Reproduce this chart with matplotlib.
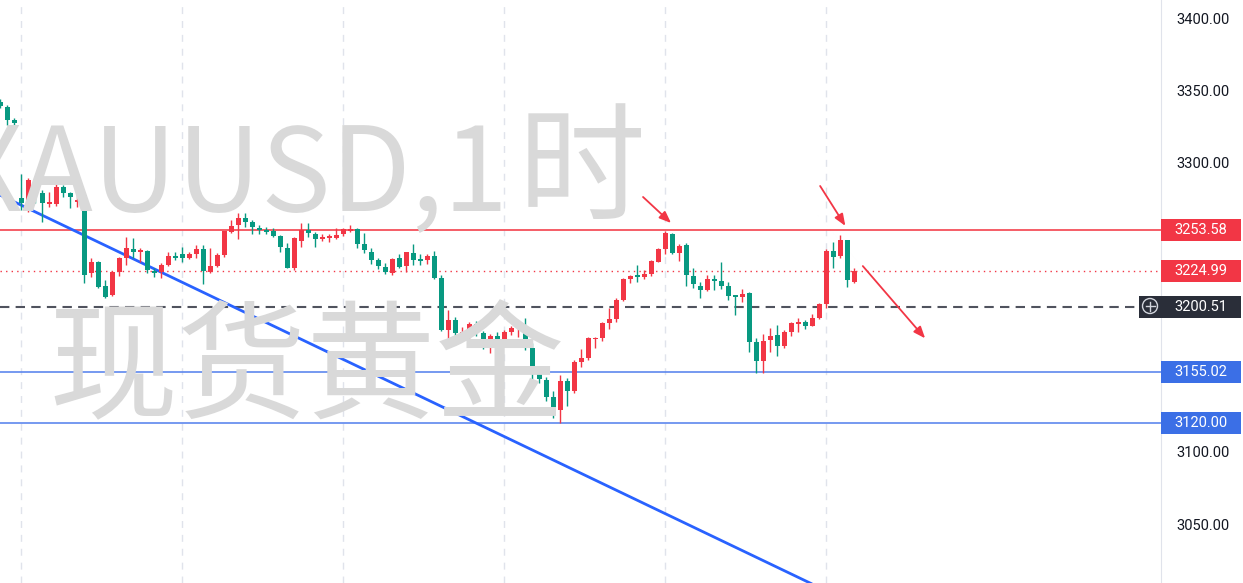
import numpy as np
import matplotlib
matplotlib.use("Agg")
import matplotlib.pyplot as plt
from matplotlib.patches import Rectangle, Circle
from matplotlib.lines import Line2D
from matplotlib.transforms import blended_transform_factory

# ---------------- data (hourly candles, index 0 = first gridline) ----------------
idx = list(range(-3, 120))
opens = [3342.2, 3338.7, 3329.7,
         3275.6, 3269.5, 3287.5, 3279.2, 3271.5, 3271.5, 3283.4, 3279.2, 3273.0, 3277.8,
         3223.9, 3231.5, 3214.9, 3208.6, 3224.5, 3234.2, 3240.4, 3238.3, 3239.0, 3225.2,
         3224.5, 3229.4, 3235.6, 3237.0, 3234.2, 3237.0, 3240.4, 3224.5, 3228.7, 3236.3,
         3252.3, 3257.1, 3262.0, 3259.1, 3254.9, 3253.6, 3252.9, 3249.4, 3241.1, 3227.3,
         3246.0, 3253.6, 3251.0, 3247.3, 3248.0, 3248.0, 3251.0, 3252.9, 3254.3, 3244.0,
         3238.3, 3232.8, 3228.0, 3223.9, 3234.2, 3228.7, 3237.7, 3233.5, 3232.8, 3235.6,
         3220.4, 3184.4, 3191.3, 3181.6, 3183.0, 3188.6, 3182.3, 3171.9, 3180.2, 3176.8,
         3183.0, 3185.8, 3187.2, 3171.9, 3154.6, 3149.7, 3137.9, 3129.0, 3149.0, 3142.1,
         3162.2, 3165.0, 3178.2, 3178.9, 3189.3, 3192.0, 3205.1, 3219.7, 3222.5, 3221.1,
         3223.2, 3231.5, 3240.4, 3251.0, 3237.7, 3243.2, 3221.8, 3214.9, 3212.0, 3219.7,
         3218.3, 3214.9, 3208.6, 3207.2, 3210.0, 3176.1, 3163.0, 3177.5, 3181.0, 3173.3,
         3183.0, 3188.6, 3190.0, 3187.2, 3192.7, 3202.4, 3239.0, 3235.6, 3246.6, 3217.6]
highs = [3344.0, 3340.1, 3331.0,
         3292.4, 3289.6, 3290.3, 3281.3, 3280.0, 3285.4, 3284.7, 3280.0, 3278.5, 3277.8,
         3234.2, 3232.0, 3219.0, 3225.0, 3234.9, 3248.7, 3248.0, 3241.1, 3239.5, 3227.3,
         3230.8, 3238.3, 3238.3, 3241.8, 3238.3, 3243.2, 3243.2, 3241.1, 3237.7, 3253.0,
         3260.5, 3265.3, 3265.3, 3260.5, 3257.0, 3255.7, 3254.9, 3250.1, 3244.6, 3248.7,
         3258.4, 3258.4, 3252.3, 3250.9, 3251.0, 3254.9, 3254.9, 3257.0, 3254.9, 3251.6,
         3241.1, 3234.2, 3230.8, 3234.2, 3236.9, 3238.3, 3244.0, 3236.9, 3236.9, 3239.0,
         3222.5, 3198.2, 3193.4, 3186.4, 3190.0, 3190.6, 3183.7, 3181.6, 3183.0, 3184.4,
         3187.2, 3187.9, 3192.7, 3175.4, 3156.7, 3151.8, 3142.1, 3153.2, 3151.1, 3163.6,
         3171.2, 3179.6, 3179.6, 3190.0, 3199.6, 3206.5, 3220.4, 3222.5, 3229.4, 3226.0,
         3232.8, 3241.1, 3253.0, 3251.6, 3243.9, 3244.6, 3227.3, 3217.6, 3222.5, 3222.5,
         3231.5, 3217.6, 3208.6, 3212.7, 3210.7, 3178.9, 3181.6, 3185.8, 3187.9, 3184.4,
         3190.0, 3192.7, 3191.3, 3195.5, 3203.1, 3240.4, 3245.3, 3250.1, 3246.6, 3227.3]
lows = [3338.0, 3326.2, 3325.5,
        3267.4, 3266.0, 3272.2, 3259.1, 3269.5, 3270.1, 3276.4, 3268.8, 3269.5, 3216.9,
        3221.1, 3213.5, 3206.6, 3207.9, 3221.8, 3229.4, 3234.2, 3231.5, 3223.9, 3221.1,
        3220.4, 3228.7, 3232.8, 3231.5, 3233.5, 3234.2, 3216.2, 3223.9, 3228.0, 3235.0,
        3251.6, 3247.3, 3255.7, 3250.9, 3250.9, 3250.9, 3248.7, 3238.3, 3227.3, 3225.9,
        3241.8, 3248.7, 3241.8, 3246.0, 3245.0, 3247.3, 3249.4, 3252.3, 3241.1, 3237.7,
        3230.1, 3226.6, 3223.2, 3222.5, 3227.3, 3224.5, 3229.4, 3229.4, 3230.1, 3219.7,
        3183.7, 3174.8, 3178.9, 3178.9, 3174.0, 3180.3, 3171.2, 3168.4, 3176.8, 3176.1,
        3181.0, 3179.6, 3170.5, 3150.4, 3147.6, 3135.2, 3123.4, 3120.0, 3131.7, 3140.7,
        3158.8, 3163.6, 3172.0, 3176.8, 3185.1, 3190.0, 3204.4, 3216.9, 3217.6, 3219.7,
        3221.8, 3231.5, 3237.0, 3237.0, 3232.1, 3214.9, 3213.5, 3206.5, 3211.4, 3212.0,
        3212.7, 3205.1, 3195.0, 3203.7, 3169.1, 3154.7, 3154.7, 3169.1, 3166.5, 3172.0,
        3180.3, 3183.0, 3185.1, 3187.2, 3192.0, 3199.7, 3227.3, 3234.2, 3214.2, 3217.0]
closes = [3339.5, 3329.7, 3327.6,
          3272.2, 3288.2, 3279.2, 3272.2, 3273.0, 3283.4, 3279.2, 3276.4, 3274.3, 3222.4,
          3231.5, 3214.2, 3207.3, 3224.5, 3234.2, 3241.1, 3238.3, 3239.7, 3225.9, 3223.9,
          3229.4, 3235.6, 3234.2, 3234.2, 3237.0, 3240.4, 3225.2, 3228.7, 3236.3, 3253.0,
          3256.4, 3262.0, 3259.1, 3255.7, 3253.6, 3252.3, 3249.4, 3241.8, 3227.3, 3248.0,
          3253.6, 3251.6, 3247.3, 3248.7, 3249.4, 3250.1, 3254.3, 3254.3, 3244.0, 3239.7,
          3232.8, 3228.7, 3224.5, 3233.5, 3228.0, 3238.3, 3232.8, 3232.1, 3235.6, 3220.4,
          3184.4, 3191.3, 3182.3, 3183.0, 3188.6, 3182.3, 3171.9, 3180.2, 3178.2, 3183.0,
          3185.8, 3187.2, 3171.9, 3154.6, 3150.4, 3137.9, 3129.0, 3149.0, 3142.1, 3162.2,
          3165.0, 3178.9, 3178.9, 3189.3, 3192.0, 3205.1, 3219.7, 3221.8, 3221.1, 3223.2,
          3232.1, 3240.4, 3251.6, 3237.7, 3242.5, 3222.5, 3216.2, 3212.0, 3219.7, 3218.3,
          3214.9, 3207.9, 3207.2, 3209.3, 3176.1, 3163.0, 3176.8, 3180.2, 3173.3, 3183.0,
          3189.3, 3190.0, 3187.2, 3192.7, 3202.4, 3238.9, 3235.0, 3246.6, 3219.0, 3224.99]

price_ticks = [3050, 3100, 3150, 3200, 3250, 3300, 3350, 3400]
hidden_ticks = [3150, 3200, 3250]   # covered by the price labels in the reference
grid_idx = [0, 23, 46, 69, 92, 115]

resistance = 3253.58
last_price = 3224.99
crosshair_price = 3200.51
supports = [3155.02, 3120.00]

trend_x = [-3, 113]
trend_y = [3277.6, 3008.5]

arrows = [((88.8, 3276.4), (92.8, 3258.4)),
          ((114.1, 3284.0), (117.7, 3256.4)),
          ((120.2, 3228.6), (129.1, 3178.6))]

watermark_latin = "XAUUSD,1"
watermark_cjk1 = "时"
watermark_line2 = "现货黄金"

# ---------------- styling ----------------
UP = "#f23645"     # rising candle (red)
DOWN = "#089981"   # falling candle (green)
W, H = 1243, 583
plot_w = 1161

fig = plt.figure(figsize=(W / 100, H / 100), dpi=100)
fig.patch.set_facecolor("white")
ax = fig.add_axes([0, 0, plot_w / W, 1])
ax.set_facecolor("white")
ax.set_xlim(-3.07, 162.8)
ax.set_ylim(3009.3, 3412.7)

# watermark
wm_font = ["Noto Sans CJK SC", "DejaVu Sans"]
WM = "#d9d9d9"
fig.text(508 / W, 1 - 210 / H, watermark_latin, fontsize=84, color=WM,
         family=wm_font, ha="right", va="baseline", zorder=0)
fig.text(518 / W, 1 - 210 / H, watermark_cjk1, fontsize=92, color=WM,
         family=wm_font, ha="left", va="baseline", zorder=0)
fig.text(48 / W, 1 - 409 / H, watermark_line2, fontsize=93, color=WM,
         family=wm_font, ha="left", va="baseline", zorder=0)

# grid
for g in grid_idx:
    ax.axvline(g, color="#e0e3eb", lw=1, ls=(0, (5, 5)), zorder=1)

# horizontal levels
ax.axhline(resistance, color="#f5515b", lw=1.3, zorder=2)
for s in supports:
    ax.axhline(s, color="#5d87ee", lw=1.2, zorder=2)
ax.axhline(last_price, color=UP, lw=1, ls=(0, (1, 3)), zorder=2)
ax.axhline(crosshair_price, color="#50535e", lw=1.5, ls=(0, (4.5, 3)), zorder=2)

# trend line
ax.plot(trend_x, trend_y, color="#2962ff", lw=2, zorder=3, solid_capstyle="butt")

# candles
x = np.array(idx, dtype=float)
o = np.array(opens); h = np.array(highs); l = np.array(lows); c = np.array(closes)
cols = np.where(c >= o, UP, DOWN)
ax.vlines(x, l, h, colors=cols, lw=1, zorder=4)
bottom = np.minimum(o, c)
height = np.maximum(np.abs(c - o), 0.8)
ax.bar(x, height, bottom=bottom, width=0.72, color=cols, edgecolor=cols, lw=0, zorder=5)

# arrows
for (s, e) in arrows:
    ax.annotate("", xy=e, xytext=s,
                arrowprops=dict(arrowstyle="-|>,head_length=0.7,head_width=0.28",
                                color=UP, lw=1.3, shrinkA=0, shrinkB=0), zorder=6)

# axis
for side in ["top", "left", "bottom"]:
    ax.spines[side].set_visible(False)
ax.spines["right"].set_color("#e0e3eb")
ax.set_xticks([])
ax.yaxis.tick_right()
ax.set_yticks(price_ticks)
ax.set_yticklabels(["" if p in hidden_ticks else f"{p:.2f}" for p in price_ticks])
ax.tick_params(axis="y", length=0, pad=11, labelsize=10.5, labelcolor="#131722")
for lab in ax.get_yticklabels():
    lab.set_family("Roboto")

# price labels
tr = blended_transform_factory(ax.transAxes, ax.transData)
box_w = 80 / plot_w
box_h = 22 / 1.445
def price_box(p, color, x0=1.0, w=box_w):
    ax.add_patch(Rectangle((x0, p - box_h / 2), w, box_h, transform=tr,
                           facecolor=color, edgecolor="none", clip_on=False, zorder=10))
    ax.text(1.0 + box_w / 2, p, f"{p:.2f}", transform=tr, ha="center", va="center",
            color="white", fontsize=10.5, family="Roboto", zorder=11, clip_on=False)

price_box(resistance, UP)
price_box(last_price, UP)
price_box(crosshair_price, "#2a2e39", x0=1 - 22 / plot_w, w=box_w + 22 / plot_w)
for s in supports:
    price_box(s, "#3b6fe6")

# crosshair icon (drawn in inches so it stays round)
cx, cy = 1150 / 100, (H - 306) / 100
fig.add_artist(Circle((cx, cy), 0.075, transform=fig.dpi_scale_trans,
                      facecolor="none", edgecolor="#d1d4dc", lw=1, zorder=12))
fig.add_artist(Line2D([cx - 0.045, cx + 0.045], [cy, cy], transform=fig.dpi_scale_trans,
                      color="#d1d4dc", lw=1, zorder=12))
fig.add_artist(Line2D([cx, cx], [cy - 0.045, cy + 0.045], transform=fig.dpi_scale_trans,
                      color="#d1d4dc", lw=1, zorder=12))

fig.savefig("out.png", dpi=100)
